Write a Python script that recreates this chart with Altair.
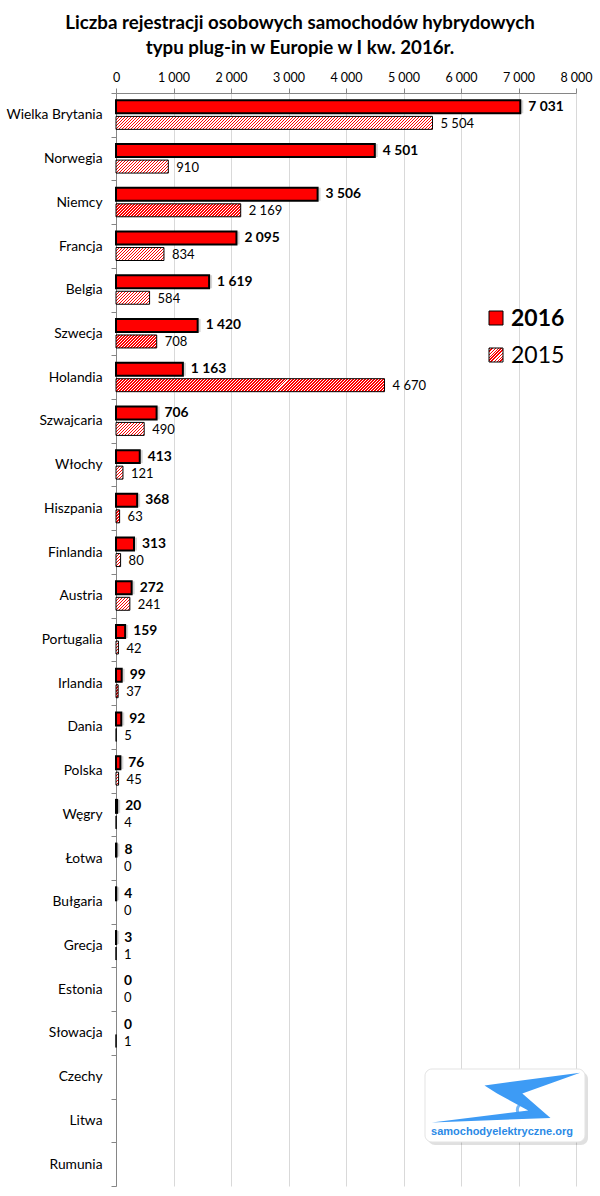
import altair as alt
import pandas as pd

# ---------------- data ----------------
countries = ["Wielka Brytania", "Norwegia", "Niemcy", "Francja", "Belgia", "Szwecja",
             "Holandia", "Szwajcaria", "Włochy", "Hiszpania", "Finlandia", "Austria",
             "Portugalia", "Irlandia", "Dania", "Polska", "Węgry", "Łotwa", "Bułgaria",
             "Grecja", "Estonia", "Słowacja", "Czechy", "Litwa", "Rumunia"]
reg_2016 = [7031, 4501, 3506, 2095, 1619, 1420, 1163, 706, 413, 368, 313, 272, 159,
            99, 92, 76, 20, 8, 4, 3, 0, 0, None, None, None]
reg_2015 = [5504, 910, 2169, 834, 584, 708, 4670, 490, 121, 63, 80, 241, 42,
            37, 5, 45, 4, 0, 0, 1, 0, 1, None, None, None]
series = ["2016", "2015"]
x_ticks = [0, 1000, 2000, 3000, 4000, 5000, 6000, 7000, 8000]
title_lines = ["Liczba rejestracji osobowych samochodów hybrydowych",
               "typu plug-in w Europie w I kw. 2016r."]
logo_text = "samochodyelektryczne.org"

# ---------------- geometry / style ----------------
W_PLOT, H_PLOT = 460, 1093
XMAX = 8000
PAD_IN, PAD_OUT = 0.19, 0.46
band = H_PLOT / len(countries)
sub_bw = band / (2 - PAD_IN + 2 * PAD_OUT) * (1 - PAD_IN)
RED = "#ff0000"
FONT = "Lato"


def fmt(v):
    return f"{int(v):,}".replace(",", " ")


def hatch(W, H, period=3.0, thick=1.3):
    if W < 1.5:
        return "#ffffff"
    L = W + H
    k = L / (W + H * H / W)
    stops = []
    j = 0
    while j * period < L:
        a = j * period / L
        b = min(j * period + thick, L) / L
        stops += [(a, "#ffffff"), (a, RED), (b, RED), (b, "#ffffff")]
        j += 1
    return {"gradient": "linear", "x1": 0, "y1": 0, "x2": k, "y2": k * H / W,
            "stops": [{"offset": round(o, 5), "color": c} for o, c in stops]}


rows = []
for c, a, b in zip(countries, reg_2016, reg_2015):
    for s, v in (("2016", a), ("2015", b)):
        if v is not None:
            rows.append({"country": c, "series": s, "value": v, "label": fmt(v)})
df = pd.DataFrame(rows)
df16 = df[df.series == "2016"]
df15 = df[df.series == "2015"]

# ---------------- shared encodings ----------------
X = alt.X("value:Q", scale=alt.Scale(domain=[0, XMAX], nice=False, zero=True),
          axis=alt.Axis(orient="top", values=x_ticks, title=None, labelFlush=False,
                        labelExpr="replace(format(datum.value, ','), ',', ' ')",
                        grid=True, gridColor="#d9d9d9", gridWidth=1,
                        domainColor="#868686", tickColor="#868686", tickSize=5,
                        labelFont=FONT, labelFontSize=12.5, labelColor="#000000",
                        labelPadding=4))
Y = alt.Y("country:N", sort=countries,
          scale=alt.Scale(domain=countries, paddingInner=0, paddingOuter=0),
          axis=alt.Axis(title=None, tickBand="extent", tickSize=5, tickColor="#868686",
                        domainColor="#868686", labelPadding=9, labelFont=FONT,
                        labelFontSize=13.8, labelColor="#000000", grid=False))
YO = alt.YOffset("series:N", scale=alt.Scale(domain=series, paddingInner=PAD_IN,
                                             paddingOuter=PAD_OUT))

base16 = alt.Chart(df16[df16.value > 0])
shadow = base16.mark_bar(color="#000000", opacity=0.16, xOffset=3).encode(
    x=X, x2=alt.datum(0), y=Y, yOffset=YO)
bars16 = base16.mark_bar(fill=RED, stroke="#000000", strokeWidth=2).encode(
    x=X, y=Y, yOffset=YO)

pos15 = df15[df15.value > 0]
conds = [{"test": f"datum.country === '{r.country}'",
          "value": hatch(r.value * W_PLOT / XMAX, sub_bw)} for r in pos15.itertuples()]
bars15 = alt.Chart(pos15).mark_bar(stroke="#000000", strokeWidth=1).encode(
    x=X, y=Y, yOffset=YO, fill={"condition": conds, "value": "#ffffff"})

lab16 = alt.Chart(df16).mark_text(align="left", baseline="middle", dx=8, font=FONT,
                                  fontSize=13.8, fontWeight="bold", color="#000000").encode(
    x=X, y=Y, yOffset=YO, text="label:N")
lab15 = alt.Chart(df15).mark_text(align="left", baseline="middle", dx=8, dy=1, font=FONT,
                                  fontSize=13, color="#000000").encode(
    x=X, y=Y, yOffset=YO, text="label:N")

one = pd.DataFrame({"k": [0]})

# title
t1 = alt.Chart(one).mark_text(text=title_lines[0], font=FONT, fontSize=18.7, fontWeight="bold",
                              align="center", baseline="middle", color="#000000").encode(
    x=alt.value(184), y=alt.value(-70))
t2 = alt.Chart(one).mark_text(text=title_lines[1], font=FONT, fontSize=18.7, fontWeight="bold",
                              align="center", baseline="middle", color="#000000").encode(
    x=alt.value(184), y=alt.value(-45))

# legend
leg_r16 = alt.Chart(one).mark_rect(fill=RED, stroke="#000000", strokeWidth=1).encode(
    x=alt.value(373), x2=alt.value(387), y=alt.value(218), y2=alt.value(232))
leg_r15 = alt.Chart(one).mark_rect(fill=hatch(14, 14), stroke="#000000", strokeWidth=1).encode(
    x=alt.value(373), x2=alt.value(387), y=alt.value(255), y2=alt.value(269))
leg_t16 = alt.Chart(one).mark_text(text=series[0], font=FONT, fontSize=23, fontWeight="bold",
                                   align="left", baseline="middle", color="#000000").encode(
    x=alt.value(395), y=alt.value(226))
leg_t15 = alt.Chart(one).mark_text(text=series[1], font=FONT, fontSize=23,
                                   align="left", baseline="middle", color="#000000").encode(
    x=alt.value(395), y=alt.value(263))

# logo
logo_shadow = alt.Chart(one).mark_rect(fill="#000000", opacity=0.12, cornerRadius=7).encode(
    x=alt.value(312), x2=alt.value(472), y=alt.value(979), y2=alt.value(1052))
logo_box = alt.Chart(one).mark_rect(fill="#ffffff", stroke="#e3e3e3", cornerRadius=7).encode(
    x=alt.value(309), x2=alt.value(469), y=alt.value(976), y2=alt.value(1049))
bolt_path = ("M-0.29,-0.17 L1,-0.34 L0.22,-0.06 L0.6,0.27 L-1,0.33 "
             "L0.3,0.17 L-0.12,-0.06 Z")
logo_bolt = alt.Chart(one).mark_point(shape=bolt_path, filled=True, color="#3d9bf5",
                                      opacity=1, size=22000).encode(
    x=alt.value(390), y=alt.value(1005))
logo_wheel = alt.Chart(one).mark_point(shape="circle", filled=False, color="#3d9bf5",
                                       strokeWidth=3, size=180).encode(
    x=alt.value(408), y=alt.value(1017))
logo_txt = alt.Chart(one).mark_text(text=logo_text, font="Liberation Sans", fontSize=11,
                                    fontWeight="bold", color="#2b8ae6",
                                    align="center", baseline="middle").encode(
    x=alt.value(386), y=alt.value(1039))

chart = alt.layer(
    shadow, bars16, bars15, lab16, lab15, t1, t2,
    leg_r16, leg_r15, leg_t16, leg_t15,
    logo_shadow, logo_box, logo_bolt, logo_wheel, logo_txt
).properties(
    width=W_PLOT, height=H_PLOT,
    autosize=alt.AutoSizeParams(type="none"),
    padding={"left": 116, "top": 93, "right": 24, "bottom": 10},
    background="#ffffff"
).configure_view(stroke=None)

chart.save("out.html", embed_options={"renderer": "svg", "actions": False})
